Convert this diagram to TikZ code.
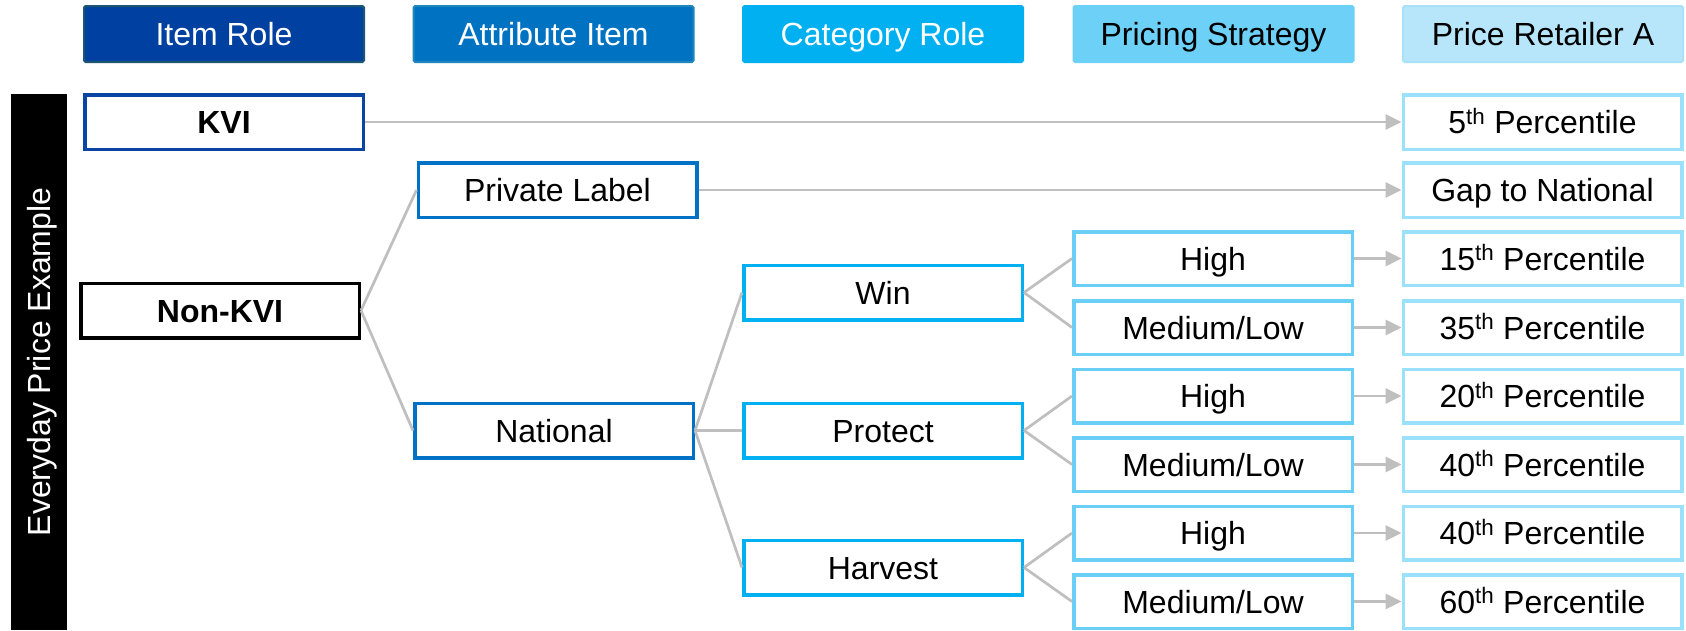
\documentclass[tikz,border=0pt]{standalone}
\usepackage{fontspec}
\setmainfont{Liberation Sans}
\usetikzlibrary{arrows.meta}
\definecolor{hA}{HTML}{0040A0}
\definecolor{hAb}{HTML}{1C5670}
\definecolor{hB}{HTML}{0072C2}
\definecolor{hBb}{HTML}{1E88BC}
\definecolor{hC}{HTML}{00B0F0}
\definecolor{hD}{HTML}{6DD1F7}
\definecolor{hE}{HTML}{B7E6FA}
\definecolor{hEb}{HTML}{A8E1F9}
\definecolor{bKVI}{HTML}{0B45A3}
\definecolor{bAttr}{HTML}{0072C6}
\definecolor{bCat}{HTML}{00B0F0}
\definecolor{bPr}{HTML}{6ACFF6}
\definecolor{bRet}{HTML}{9BE1FB}
\definecolor{cgray}{HTML}{BFBFBF}
\begin{document}
\begin{tikzpicture}[x=1pt,y=-1pt,
  txt/.style={font=\fontsize{32}{38}\selectfont, text height=23pt, text depth=0pt},
  hdr/.style={txt, line width=2pt, inner sep=0pt, minimum width=280pt, minimum height=56pt, rounded corners=1.5pt},
  box/.style={txt, draw, line width=3.5pt, fill=white, inner sep=0pt, minimum width=278.5pt, minimum height=54.5pt},
  conn/.style={draw=cgray, line width=2.7pt},
  arr/.style={conn, -{Triangle[length=16pt,width=15pt]}}
]
\useasboundingbox (0,0) rectangle (1686,630);
\fill[white] (0,0) rectangle (1686,630);

% side bar
\fill[black] (11,94) rectangle (67,630);
\node[txt, text=white, rotate=90] (side) at (39,362) {Everyday Price Example};

% headers
\node[hdr, fill=hA, draw=hAb, text=white] (h1) at (224,34) {Item Role};
\node[hdr, fill=hB, draw=hBb, text=white] (h2) at (553.5,34) {Attribute Item};
\node[hdr, fill=hC, draw=hC, text=white] (h3) at (883,34) {Category Role};
\node[hdr, fill=hD, draw=hD, text=black] (h4) at (1213.5,34) {Pricing Strategy};
\node[hdr, fill=hE, draw=hEb, text=black] (h5) at (1543,34) {Price Retailer A};

% column 1
\node[box, draw=bKVI, font=\fontsize{32}{38}\selectfont\bfseries] (kvi) at (224,122) {KVI};
\node[box, draw=black, font=\fontsize{32}{38}\selectfont\bfseries] (nonkvi) at (220,310.5) {Non-KVI};

% column 2
\node[box, draw=bAttr] (pl) at (557.5,190) {Private Label};
\node[box, draw=bAttr] (nat) at (554,430.5) {National};

% column 3
\node[box, draw=bCat] (win) at (883,292.5) {Win};
\node[box, draw=bCat] (prot) at (883,430.5) {Protect};
\node[box, draw=bCat] (harv) at (883,567.5) {Harvest};

% column 4
\node[box, draw=bPr, minimum height=53.5pt] (p1) at (1213,258.5) {High};
\node[box, draw=bPr, minimum height=53.5pt] (p2) at (1213,327.5) {Medium/Low};
\node[box, draw=bPr, minimum height=53.5pt] (p3) at (1213,396) {High};
\node[box, draw=bPr, minimum height=53.5pt] (p4) at (1213,464.5) {Medium/Low};
\node[box, draw=bPr, minimum height=53.5pt] (p5) at (1213,533) {High};
\node[box, draw=bPr, minimum height=53.5pt] (p6) at (1213,601.5) {Medium/Low};

% column 5
\node[box, draw=bRet] (r0) at (1542.5,122) {5\textsuperscript{th} Percentile};
\node[box, draw=bRet] (rg) at (1542.5,190) {Gap to National};
\node[box, draw=bRet, minimum height=53.5pt] (r1) at (1542.5,258.5) {15\textsuperscript{th} Percentile};
\node[box, draw=bRet, minimum height=53.5pt] (r2) at (1542.5,327.5) {35\textsuperscript{th} Percentile};
\node[box, draw=bRet, minimum height=53.5pt] (r3) at (1542.5,396) {20\textsuperscript{th} Percentile};
\node[box, draw=bRet, minimum height=53.5pt] (r4) at (1542.5,464.5) {40\textsuperscript{th} Percentile};
\node[box, draw=bRet, minimum height=53.5pt] (r5) at (1542.5,533) {40\textsuperscript{th} Percentile};
\node[box, draw=bRet, minimum height=53.5pt] (r6) at (1542.5,601.5) {60\textsuperscript{th} Percentile};

% connectors
\draw[arr] (kvi.east) -- (r0.west);
\draw[arr] (pl.east) -- (rg.west);
\draw[conn] (nonkvi.east) -- (pl.west);
\draw[conn] (nonkvi.east) -- (nat.west);
\draw[conn] (nat.east) -- (win.west);
\draw[conn] (nat.east) -- (prot.west);
\draw[conn] (nat.east) -- (harv.west);
\draw[conn] (win.east) -- (p1.west);
\draw[conn] (win.east) -- (p2.west);
\draw[conn] (prot.east) -- (p3.west);
\draw[conn] (prot.east) -- (p4.west);
\draw[conn] (harv.east) -- (p5.west);
\draw[conn] (harv.east) -- (p6.west);
\draw[arr] (p1.east) -- (r1.west);
\draw[arr] (p2.east) -- (r2.west);
\draw[arr] (p3.east) -- (r3.west);
\draw[arr] (p4.east) -- (r4.west);
\draw[arr] (p5.east) -- (r5.west);
\draw[arr] (p6.east) -- (r6.west);
\end{tikzpicture}
\end{document}
